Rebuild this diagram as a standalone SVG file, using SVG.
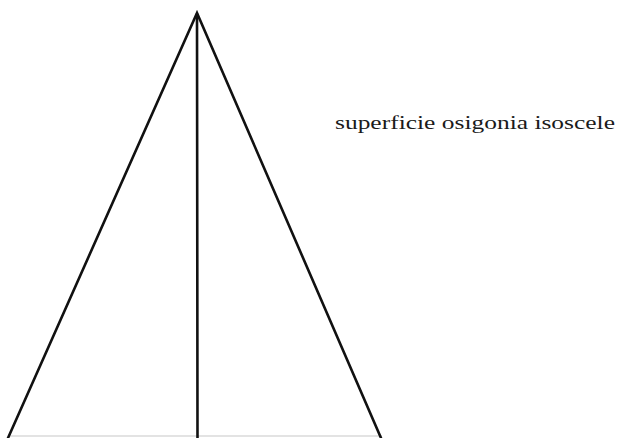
<svg xmlns="http://www.w3.org/2000/svg" width="621" height="438" viewBox="0 0 621 438">
<style>
.edge{stroke:#111;stroke-width:2.6;fill:none;stroke-linecap:round}
.base{stroke:#c8c8c8;stroke-width:1.2}
.lbl{font-family:"Liberation Serif","Times New Roman",serif;font-size:18px;fill:#1a1a1a}
</style>
<rect width="621" height="438" fill="#fff"/>
<g id="triangle">
<line class="base" x1="8" y1="436" x2="382" y2="436"/>
<polyline class="edge" points="8,438 197,13 381,438"/>
<line class="edge" x1="197" y1="14" x2="197.5" y2="438"/>
</g>
<g id="label">
<text class="lbl" x="335" y="129" textLength="280" lengthAdjust="spacingAndGlyphs">superficie osigonia isoscele</text>
</g>
</svg>
